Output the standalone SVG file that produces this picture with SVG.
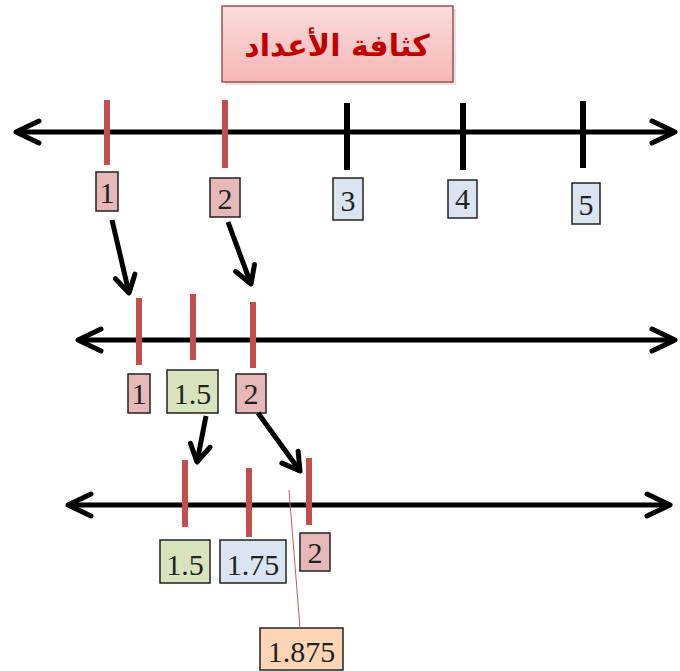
<svg xmlns="http://www.w3.org/2000/svg" width="680" height="671" viewBox="0 0 680 671">
<style>
.axis{stroke:#000;stroke-width:5;fill:none}
.conn{stroke:#000;stroke-width:5;fill:none}
.rt{stroke:#c0504d;stroke-width:6}
.bt{stroke:#000;stroke-width:6}
.box{stroke:#222;stroke-width:1.5}
.pk{fill:#e6b9b8}
.bl{fill:#dbe5f1}
.gr{fill:#d7e4bd}
.pc{fill:#fbd5b5}
.lbl{font-family:"Liberation Serif","Times New Roman",serif;font-size:30px;fill:#222;text-anchor:middle}
</style>
<defs>
<marker id="ax" viewBox="-28 -15 32 30" markerWidth="32" markerHeight="30" refX="0" refY="0" markerUnits="userSpaceOnUse" orient="auto-start-reverse">
<path d="M-23,-11 L0,0 L-23,11" fill="none" stroke="#000" stroke-width="5" stroke-linecap="round" stroke-linejoin="round"/>
</marker>
<marker id="ar" viewBox="-22 -13 26 26" markerWidth="26" markerHeight="26" refX="0" refY="0" markerUnits="userSpaceOnUse" orient="auto">
<path d="M-17,-10 L0,0 L-17,10" fill="none" stroke="#000" stroke-width="5" stroke-linecap="round" stroke-linejoin="round"/>
</marker>
<linearGradient id="tg" x1="0" y1="0" x2="0" y2="1">
<stop offset="0" stop-color="#fbdcdc"/>
<stop offset="0.5" stop-color="#f8c9c9"/>
<stop offset="1" stop-color="#f6b8b8"/>
</linearGradient>
</defs>
<g id="title">
<rect x="225" y="9" width="231" height="76" fill="#d0d0d0" opacity="0.6"/>
<rect x="222" y="6" width="231" height="76" fill="url(#tg)" stroke="#a05050" stroke-width="1.5"/>
<text x="337" y="56" font-family="'DejaVu Sans',sans-serif" font-size="30" font-weight="bold" fill="#c00000" text-anchor="middle">كثافة الأعداد</text>
</g>
<g id="axes">
<line class="axis" x1="16" y1="132" x2="675" y2="132" marker-start="url(#ax)" marker-end="url(#ax)"/>
<line class="axis" x1="78" y1="340" x2="675" y2="340" marker-start="url(#ax)" marker-end="url(#ax)"/>
<line class="axis" x1="68" y1="505" x2="670" y2="505" marker-start="url(#ax)" marker-end="url(#ax)"/>
</g>
<g id="ticks">
<line class="rt" x1="107" y1="100" x2="107" y2="165"/>
<line class="rt" x1="225" y1="100" x2="225" y2="168"/>
<line class="bt" x1="347" y1="103" x2="347" y2="170"/>
<line class="bt" x1="463" y1="103" x2="463" y2="170"/>
<line class="bt" x1="583" y1="101" x2="583" y2="168"/>
<line class="rt" x1="139" y1="298" x2="139" y2="365"/>
<line class="rt" x1="193" y1="294" x2="193" y2="360"/>
<line class="rt" x1="253" y1="302" x2="253" y2="368"/>
<line class="rt" x1="185" y1="460" x2="185" y2="527"/>
<line class="rt" x1="249" y1="468" x2="249" y2="537"/>
<line class="rt" x1="309" y1="458" x2="309" y2="525"/>
</g>
<g id="n1a"><rect class="box pk" x="96" y="172" width="22" height="39"/><text class="lbl" x="107" y="203">1</text></g>
<g id="n2a"><rect class="box pk" x="210" y="178" width="30" height="39"/><text class="lbl" x="225" y="209">2</text></g>
<g id="n3a"><rect class="box bl" x="333" y="178" width="30" height="42"/><text class="lbl" x="348" y="211">3</text></g>
<g id="n4a"><rect class="box bl" x="448" y="180" width="29" height="38"/><text class="lbl" x="462.5" y="209">4</text></g>
<g id="n5a"><rect class="box bl" x="572" y="183" width="28" height="41"/><text class="lbl" x="586" y="215">5</text></g>
<g id="n1b"><rect class="box pk" x="128" y="374" width="22" height="39"/><text class="lbl" x="139" y="404">1</text></g>
<g id="n15b"><rect class="box gr" x="167" y="370" width="51" height="43"/><text class="lbl" x="192.5" y="404">1.5</text></g>
<g id="n2b"><rect class="box pk" x="236" y="374" width="30" height="39"/><text class="lbl" x="251" y="404">2</text></g>
<g id="n15c"><rect class="box gr" x="160" y="540" width="50" height="43"/><text class="lbl" x="185" y="575">1.5</text></g>
<g id="n175c"><rect class="box bl" x="220" y="540" width="66" height="43"/><text class="lbl" x="253" y="575">1.75</text></g>
<g id="n2c"><rect class="box pk" x="300" y="533" width="30" height="38"/><text class="lbl" x="315" y="563">2</text></g>
<g id="n1875c"><rect class="box pc" x="260" y="628" width="83" height="42"/><text class="lbl" x="301.5" y="662" font-size="32">1.875</text></g>
<g id="connectors">
<line class="conn" x1="112" y1="220" x2="129" y2="293" marker-end="url(#ar)"/>
<line class="conn" x1="228" y1="222" x2="251" y2="284" marker-end="url(#ar)"/>
<line class="conn" x1="206" y1="416" x2="197" y2="462" marker-end="url(#ar)"/>
<line class="conn" x1="258" y1="413" x2="300" y2="471" marker-end="url(#ar)"/>
<line x1="289" y1="490" x2="300" y2="628" stroke="#c06060" stroke-width="1"/>
</g>
</svg>
